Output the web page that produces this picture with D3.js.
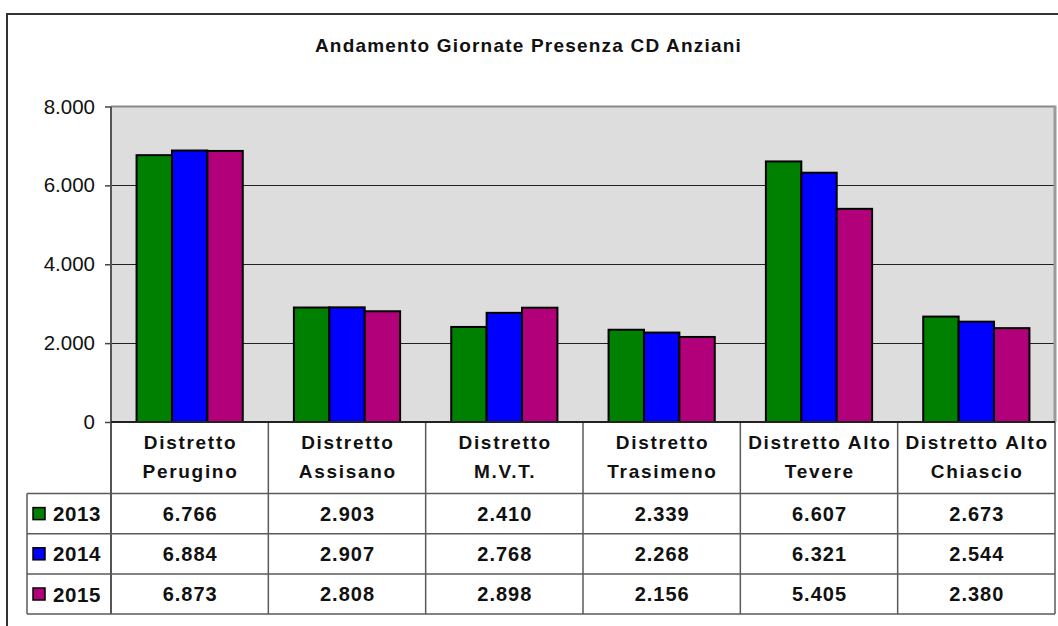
<!DOCTYPE html>
<html>
<head>
<meta charset="utf-8">
<script src="https://cdn.jsdelivr.net/npm/d3@7/dist/d3.min.js"></script>
<style>
  html, body { margin: 0; padding: 0; background: #fff; }
  svg { display: block; font-family: "Liberation Sans", Arial, sans-serif; }
</style>
</head>
<body>
<svg id="chart" width="1058" height="626"></svg>
<script>
// Giornate di presenza nei Centri Diurni Anziani, per distretto e anno
const categories = [
  "Distretto\nPerugino",
  "Distretto\nAssisano",
  "Distretto\nM.V.T.",
  "Distretto\nTrasimeno",
  "Distretto Alto\nTevere",
  "Distretto Alto\nChiascio"
];
const years = ["2013", "2014", "2015"];
const values2013 = [6766, 2903, 2410, 2339, 6607, 2673];
const values2014 = [6884, 2907, 2768, 2268, 6321, 2544];
const values2015 = [6873, 2808, 2898, 2156, 5405, 2380];
const yTicks = [0, 2000, 4000, 6000, 8000];
const title = "Andamento Giornate Presenza CD Anziani";

const seriesValues = [values2013, values2014, values2015];
const colors = d3.scaleOrdinal().domain(years).range(["#008000", "#0000ff", "#b2007a"]);

const it = d3.formatLocale({ decimal: ",", thousands: ".", grouping: [3], currency: ["", " €"] });
const fmt = it.format(",d");

const svg = d3.select("#chart");

// outer frame
svg.append("rect")
  .attr("x", 7).attr("y", 14).attr("width", 1100).attr("height", 700)
  .attr("fill", "none").attr("stroke", "#333").attr("stroke-width", 2);

// layout
const plot = { left: 111, right: 1055, top: 106.5, bottom: 422 };
const table = { left: 27, headerBottom: 493.5, rowH: 40.2 };

const x0 = d3.scaleBand().domain(categories).range([plot.left, plot.right]).padding(0);
const bw = x0.bandwidth();
const groupFrac = 0.675;
const gOff = bw * (1 - groupFrac) / 2;
const x1 = d3.scaleBand().domain(years).range([gOff, bw - gOff]).padding(0);
const y = d3.scaleLinear().domain([0, 8000]).range([plot.bottom, plot.top]);

// plot background
svg.append("rect")
  .attr("x", plot.left).attr("y", plot.top)
  .attr("width", plot.right - plot.left).attr("height", plot.bottom - plot.top)
  .attr("fill", "#dddddd");

// gridlines
svg.append("g")
  .selectAll("line")
  .data(yTicks.filter(d => d > 0 && d < 8000))
  .join("line")
  .attr("x1", plot.left).attr("x2", plot.right)
  .attr("y1", d => Math.round(y(d)) + 0.5).attr("y2", d => Math.round(y(d)) + 0.5)
  .attr("stroke", "#222").attr("stroke-width", 1.2);

// plot border: grey top and right edges
svg.append("line")
  .attr("x1", plot.left).attr("x2", plot.right)
  .attr("y1", plot.top).attr("y2", plot.top)
  .attr("stroke", "#8a8a8a").attr("stroke-width", 2);
svg.append("line")
  .attr("x1", plot.right).attr("x2", plot.right)
  .attr("y1", plot.top - 1).attr("y2", plot.bottom)
  .attr("stroke", "#9a9a9a").attr("stroke-width", 3);

// bars
const groups = svg.append("g").selectAll("g")
  .data(categories)
  .join("g")
  .attr("transform", d => `translate(${x0(d)},0)`);

groups.selectAll("rect")
  .data((d, i) => years.map((yr, s) => ({ yr, v: seriesValues[s][i] })))
  .join("rect")
  .attr("x", d => x1(d.yr))
  .attr("y", d => y(d.v))
  .attr("width", x1.bandwidth())
  .attr("height", d => y(0) - y(d.v))
  .attr("fill", d => colors(d.yr))
  .attr("stroke", "#000")
  .attr("stroke-width", 2);

// y axis
const yAxis = d3.axisLeft(y).tickValues(yTicks).tickFormat(fmt).tickSize(6).tickPadding(10);
const gy = svg.append("g").attr("transform", `translate(${plot.left},0)`).call(yAxis);
gy.select(".domain").remove();
gy.selectAll(".tick line").attr("stroke", "#444").attr("stroke-width", 1.5);
gy.selectAll(".tick text")
  .attr("font-size", 20.5).attr("fill", "#111")
  .style("font-family", "'Liberation Sans', Arial, sans-serif");

// data table
const tableBottom = table.headerBottom + table.rowH * years.length;
const lineColor = "#5a5a5a";
const tbl = svg.append("g");

// vertical axis line through plot and table
tbl.append("line")
  .attr("x1", plot.left).attr("x2", plot.left)
  .attr("y1", plot.top).attr("y2", tableBottom)
  .attr("stroke", "#555").attr("stroke-width", 2);

// category separators
tbl.selectAll("line.sep")
  .data(categories.slice(1))
  .join("line")
  .attr("class", "sep")
  .attr("x1", d => x0(d)).attr("x2", d => x0(d))
  .attr("y1", plot.bottom).attr("y2", tableBottom)
  .attr("stroke", lineColor).attr("stroke-width", 1.5);

// right edge of the table
tbl.append("line")
  .attr("x1", plot.right).attr("x2", plot.right)
  .attr("y1", plot.bottom).attr("y2", tableBottom)
  .attr("stroke", lineColor).attr("stroke-width", 1.5);

// left edge of the legend column
tbl.append("line")
  .attr("x1", table.left).attr("x2", table.left)
  .attr("y1", table.headerBottom).attr("y2", tableBottom)
  .attr("stroke", lineColor).attr("stroke-width", 1.5);

// horizontal rules
tbl.selectAll("line.row")
  .data(d3.range(years.length + 1))
  .join("line")
  .attr("class", "row")
  .attr("x1", table.left).attr("x2", plot.right)
  .attr("y1", i => table.headerBottom + i * table.rowH)
  .attr("y2", i => table.headerBottom + i * table.rowH)
  .attr("stroke", lineColor).attr("stroke-width", 1.5);

// x axis baseline
svg.append("line")
  .attr("x1", plot.left).attr("x2", plot.right)
  .attr("y1", plot.bottom).attr("y2", plot.bottom)
  .attr("stroke", "#222").attr("stroke-width", 2);

// category headers
const hdr = tbl.selectAll("text.hdr")
  .data(categories)
  .join("text")
  .attr("class", "hdr")
  .attr("x", d => x0(d) + bw / 2)
  .attr("text-anchor", "middle")
  .attr("font-size", 19).attr("font-weight", "bold")
  .attr("letter-spacing", 1.7)
  .attr("fill", "#111");
hdr.selectAll("tspan")
  .data(d => d.split("\n"))
  .join("tspan")
  .attr("x", function () { return +this.parentNode.getAttribute("x") + 0.85; })
  .attr("y", (d, i) => 449 + i * 29)
  .text(d => d);

// value rows
years.forEach((yr, s) => {
  const cy = table.headerBottom + s * table.rowH + table.rowH / 2;
  tbl.append("rect")
    .attr("x", 33).attr("y", cy - 6)
    .attr("width", 12).attr("height", 12)
    .attr("fill", colors(yr)).attr("stroke", "#000").attr("stroke-width", 1.5);
  tbl.append("text")
    .attr("x", 53).attr("y", cy + 7.5)
    .attr("font-size", 20.5).attr("font-weight", "bold")
    .attr("letter-spacing", 0.6)
    .attr("fill", "#111")
    .text(yr);
  tbl.selectAll(null)
    .data(categories)
    .join("text")
    .attr("x", d => x0(d) + bw / 2 + 0.5)
    .attr("y", cy + 7)
    .attr("text-anchor", "middle")
    .attr("font-size", 20).attr("font-weight", "bold")
    .attr("letter-spacing", 1)
    .attr("fill", "#111")
    .text((d, i) => fmt(seriesValues[s][i]));
});

// title
svg.append("text")
  .attr("x", 528.5).attr("y", 52)
  .attr("text-anchor", "middle")
  .attr("font-size", 19).attr("font-weight", "bold")
  .attr("letter-spacing", 1.2)
  .attr("fill", "#111")
  .text(title);
</script>
</body>
</html>
